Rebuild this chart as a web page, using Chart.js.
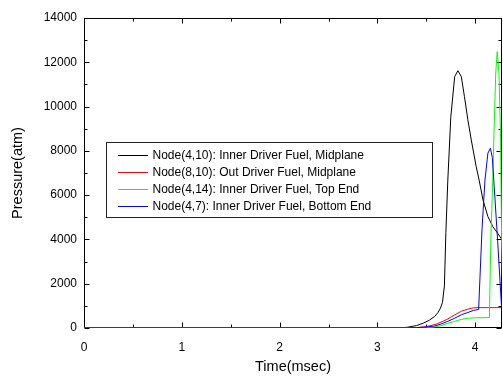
<!DOCTYPE html>
<html>
<head>
<meta charset="utf-8">
<script src="https://cdn.jsdelivr.net/npm/chart.js@4.4.1/dist/chart.umd.min.js"></script>
<style>
  html, body { margin: 0; padding: 0; background: #fff; }
  #wrap { width: 503px; height: 376px; }
</style>
</head>
<body>
<div id="wrap"><canvas id="chart" width="503" height="376"></canvas></div>
<script>
// values (time in msec, pressure in atm)
const seriesLabels = [
    'Node(4,10): Inner Driver Fuel, Midplane',
    'Node(8,10): Out Driver Fuel, Midplane',
    'Node(4,14): Inner Driver Fuel, Top End',
    'Node(4,7): Inner Driver Fuel, Bottom End'
];
const seriesColors = ['#000000', '#ff0000', '#00ff00', '#0000ff'];

const blackTime = [0, 3.2, 3.3, 3.4, 3.47, 3.53, 3.585, 3.62, 3.645, 3.665, 3.685, 3.70, 3.72, 3.75, 3.79, 3.823, 3.858, 3.89, 3.925, 3.96, 4.01, 4.04, 4.08, 4.13, 4.18, 4.23, 4.28, 4.35];
const blackPressure = [0, 0, 30, 110, 220, 350, 520, 700, 900, 1150, 1900, 4300, 6680, 9500, 11350, 11620, 11350, 10450, 9400, 8490, 7290, 6680, 5780, 5030, 4580, 4280, 3950, 3600];

const redTime = [0, 3.3, 3.4, 3.5, 3.6, 3.7, 3.79, 3.86, 3.925, 3.98, 4.05, 4.35];
const redPressure = [0, 0, 20, 60, 170, 360, 590, 760, 850, 910, 920, 920];

const greenTime = [0, 3.4, 3.5, 3.585, 3.65, 3.72, 3.79, 3.86, 3.925, 4.0, 4.145, 4.16, 4.18, 4.19, 4.21, 4.225, 4.243, 4.26, 4.27, 4.285];
const greenPressure = [0, 0, 15, 45, 110, 210, 300, 390, 440, 460, 470, 4000, 6680, 8490, 11500, 12480, 11500, 8490, 4000, 1000];

const blueTime = [0, 3.3, 3.4, 3.5, 3.585, 3.65, 3.72, 3.79, 3.86, 3.925, 3.98, 4.035, 4.07, 4.10, 4.13, 4.155, 4.175, 4.19, 4.23, 4.27, 4.3];
const bluePressure = [0, 0, 15, 45, 90, 180, 300, 440, 600, 700, 790, 840, 4500, 6680, 7900, 8120, 7700, 6680, 3900, 900, 850];

const xMin = 0, xMax = 4.274, xMajor = 1, xMinor = 0.5;
const yMin = 0, yMax = 14000, yMajor = 2000, yMinor = 1000;

const FONT = '"Liberation Sans", Arial, sans-serif';

function toPoints(xs, ys) {
    return xs.map((x, i) => ({ x: x, y: ys[i] }));
}

const allSeries = [
    toPoints(blackTime, blackPressure),
    toPoints(redTime, redPressure),
    toPoints(greenTime, greenPressure),
    toPoints(blueTime, bluePressure)
];

// frame with inward ticks on all four sides
const framePlugin = {
    id: 'frame',
    beforeDatasetsDraw(chart) {
        const { ctx, chartArea: a, scales: { x, y } } = chart;
        const L = Math.round(a.left) + 0.5, R = Math.round(a.right) - 0.5;
        const T = Math.round(a.top) + 0.5, B = Math.round(a.bottom) - 0.5;
        ctx.save();
        ctx.strokeStyle = '#000';
        ctx.lineWidth = 1;
        ctx.strokeRect(L, T, R - L, B - T);
        ctx.beginPath();
        for (let v = xMin; v <= xMax + 1e-9; v += xMinor) {
            const px = Math.round(x.getPixelForValue(v)) + 0.5;
            const len = Math.abs(v / xMajor - Math.round(v / xMajor)) < 1e-6 ? 5 : 3;
            ctx.moveTo(px, B); ctx.lineTo(px, B - len);
            ctx.moveTo(px, T); ctx.lineTo(px, T + len);
        }
        for (let v = yMin; v <= yMax + 1e-9; v += yMinor) {
            const py = Math.round(y.getPixelForValue(v)) + 0.5;
            const len = v % yMajor === 0 ? 5 : 3;
            ctx.moveTo(L, py); ctx.lineTo(L + len, py);
            ctx.moveTo(R, py); ctx.lineTo(R - len, py);
        }
        ctx.stroke();
        ctx.restore();
    }
};

// boxed legend sitting inside the plot
const boxLegend = {
    id: 'boxLegend',
    afterDraw(chart) {
        const ctx = chart.ctx;
        const left = 106.5, top = 142.5, width = 326, height = 75;
        ctx.save();
        ctx.fillStyle = '#fff';
        ctx.fillRect(left, top, width, height);
        ctx.strokeStyle = '#222';
        ctx.lineWidth = 1;
        ctx.strokeRect(left, top, width, height);
        ctx.font = '12px ' + FONT;
        ctx.textBaseline = 'middle';
        ctx.textAlign = 'left';
        chart.data.datasets.forEach((ds, i) => {
            const rowY = 155.5 + i * 17;
            ctx.strokeStyle = ds.borderColor;
            ctx.beginPath();
            ctx.moveTo(118, rowY);
            ctx.lineTo(148, rowY);
            ctx.stroke();
            ctx.fillStyle = '#000';
            ctx.fillText(ds.label, 152.5, rowY);
        });
        ctx.restore();
    }
};

new Chart(document.getElementById('chart'), {
    type: 'line',
    data: {
        datasets: allSeries.map((pts, i) => ({
            label: seriesLabels[i],
            data: pts,
            borderColor: seriesColors[i],
            borderWidth: 1,
            pointRadius: 0,
            tension: 0,
            fill: false,
            order: 3 - i
        }))
    },
    options: {
        responsive: false,
        animation: false,
        layout: { padding: { top: 18, right: 1, left: 0, bottom: 0 } },
        plugins: { legend: { display: false }, tooltip: { enabled: false } },
        scales: {
            x: {
                type: 'linear',
                min: xMin,
                max: xMax,
                grid: { display: false, drawTicks: false },
                border: { display: false },
                ticks: {
                    stepSize: xMajor,
                    includeBounds: false,
                    autoSkip: false,
                    padding: 12,
                    color: '#000',
                    font: { family: FONT, size: 12 },
                    maxRotation: 0,
                    callback: v => String(v)
                },
                title: {
                    display: true,
                    text: 'Time(msec)',
                    color: '#000',
                    font: { family: FONT, size: 14.5 },
                    padding: { top: 0, bottom: 0 }
                },
                afterFit: s => { s.height = 48; }
            },
            y: {
                min: yMin,
                max: yMax,
                grid: { display: false, drawTicks: false },
                border: { display: false },
                ticks: {
                    stepSize: yMajor,
                    padding: 7,
                    color: '#000',
                    font: { family: FONT, size: 12 },
                    callback: v => String(v)
                },
                title: {
                    display: true,
                    text: 'Pressure(atm)',
                    color: '#000',
                    font: { family: FONT, size: 14.5 },
                    padding: { top: 9.3, bottom: 0 }
                },
                afterFit: s => { s.width = 84; }
            }
        }
    },
    plugins: [framePlugin, boxLegend]
});
</script>
</body>
</html>
